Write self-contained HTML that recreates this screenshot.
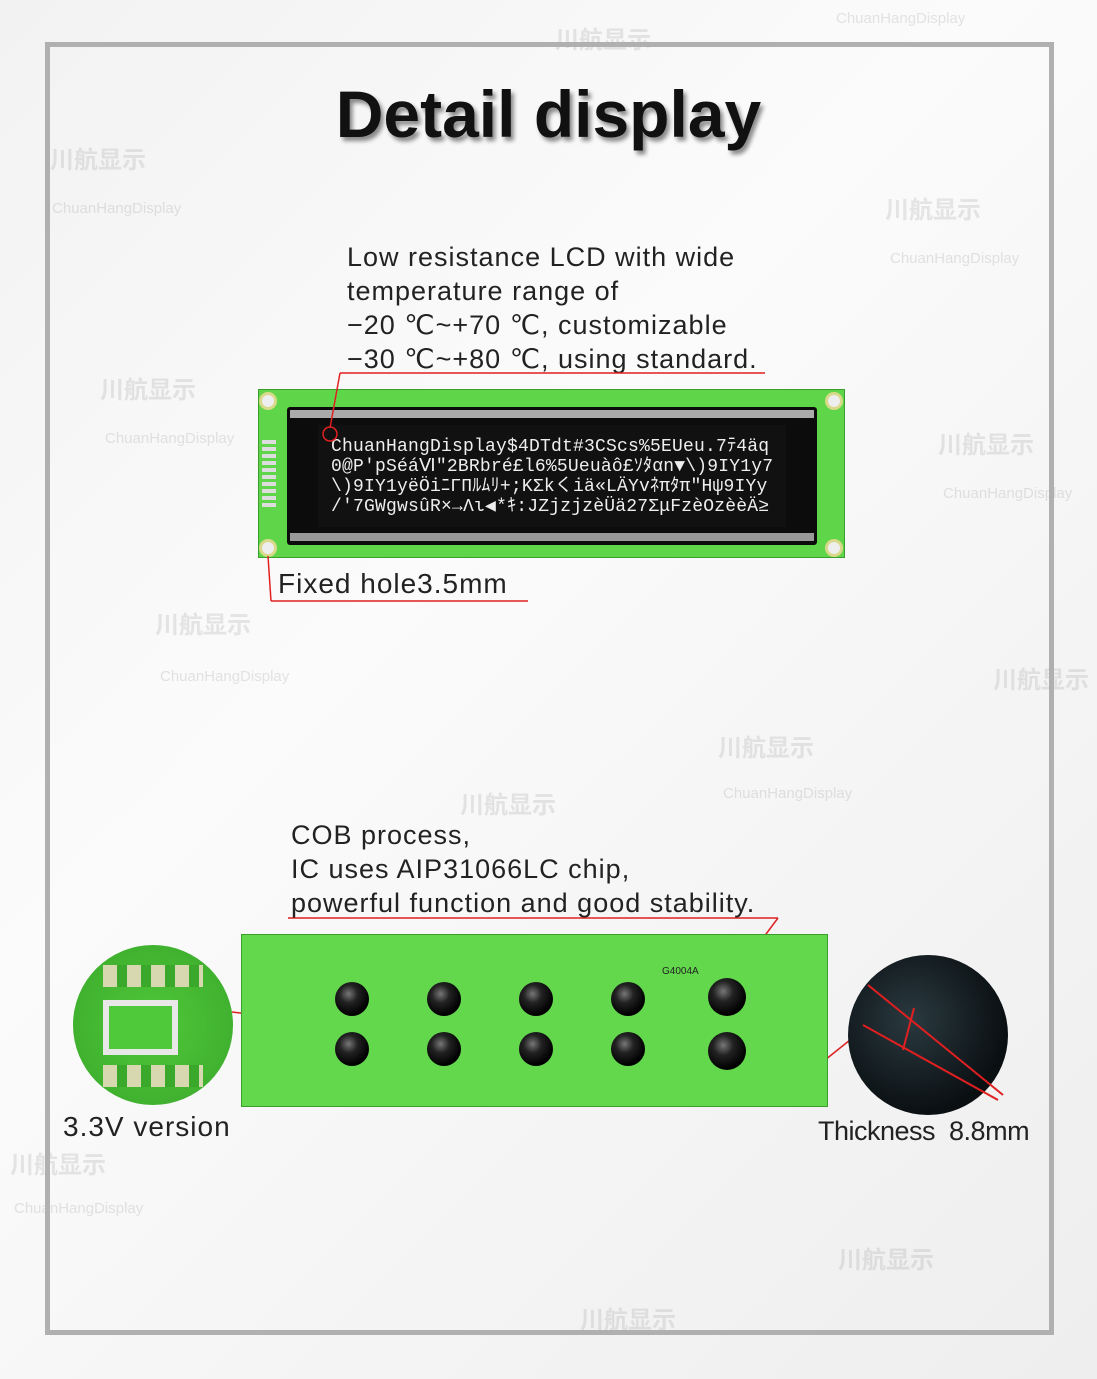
<!DOCTYPE html>
<html><head><meta charset="utf-8"><style>
*{margin:0;padding:0;box-sizing:border-box}
body{width:1097px;height:1379px;position:relative;overflow:hidden;font-family:"Liberation Sans",sans-serif;background:linear-gradient(135deg,#f2f2f2 0%,#fbfbfb 40%,#f4f4f4 70%,#eeeeee 100%)}
.abs{position:absolute}
.frame{left:45px;top:42px;width:1009px;height:1293px;border:5px solid #b0b0b0}
.title{left:0;width:1097px;top:76px;text-align:center;font-size:66px;font-weight:bold;color:#111;text-shadow:3px 4px 4px rgba(0,0,0,.45)}
.t{font-size:27px;color:#222;line-height:34px;letter-spacing:1px}
.wm{color:rgba(150,150,150,.22);font-size:24px;font-family:"Liberation Sans","Noto Sans CJK SC",sans-serif;font-weight:bold}
.wm2{color:rgba(150,150,150,.25);font-size:15px}
.lcdtxt{font-family:"Liberation Mono",monospace;color:#eee;font-size:18px;line-height:20px;white-space:pre;letter-spacing:.2px}
.blob{position:absolute;width:34px;height:34px;border-radius:50%;background:radial-gradient(circle at 40% 35%,#777 0,#222 30%,#000 70%)}
</style></head><body>
<div class="abs wm" style="left:50px;top:140px">川航显示</div>
<div class="abs wm2" style="left:52px;top:200px">ChuanHangDisplay</div>
<div class="abs wm" style="left:100px;top:370px">川航显示</div>
<div class="abs wm2" style="left:105px;top:430px">ChuanHangDisplay</div>
<div class="abs wm" style="left:885px;top:190px">川航显示</div>
<div class="abs wm2" style="left:890px;top:250px">ChuanHangDisplay</div>
<div class="abs wm" style="left:938px;top:425px">川航显示</div>
<div class="abs wm2" style="left:943px;top:485px">ChuanHangDisplay</div>
<div class="abs wm" style="left:155px;top:605px">川航显示</div>
<div class="abs wm2" style="left:160px;top:668px">ChuanHangDisplay</div>
<div class="abs wm" style="left:718px;top:728px">川航显示</div>
<div class="abs wm2" style="left:723px;top:785px">ChuanHangDisplay</div>
<div class="abs wm" style="left:460px;top:785px">川航显示</div>
<div class="abs wm" style="left:993px;top:660px">川航显示</div>
<div class="abs wm" style="left:10px;top:1145px">川航显示</div>
<div class="abs wm2" style="left:14px;top:1200px">ChuanHangDisplay</div>
<div class="abs wm" style="left:838px;top:1240px">川航显示</div>
<div class="abs wm" style="left:580px;top:1300px">川航显示</div>
<div class="abs wm" style="left:555px;top:20px">川航显示</div>
<div class="abs wm2" style="left:836px;top:10px">ChuanHangDisplay</div>

<div class="abs frame"></div>
<div class="abs title">Detail display</div>

<div class="abs t" style="left:347px;top:240px">Low resistance LCD with wide<br>temperature range of<br>−20 ℃~+70 ℃, customizable<br>−30 ℃~+80 ℃, using standard.</div>

<div class="abs" style="left:258px;top:389px;width:587px;height:169px;background:#5fd64a;border:1px solid #3a9d2c"></div>
<div class="abs" style="left:287px;top:407px;width:530px;height:138px;background:#0c0c0c;border-radius:3px"></div>
<div class="abs" style="left:290px;top:410px;width:524px;height:8px;background:#aaa"></div>
<div class="abs" style="left:290px;top:533px;width:524px;height:8px;background:#999"></div>
<div class="abs" style="left:318px;top:425px;width:468px;height:102px;background:#111"></div>
<div class="abs lcdtxt" style="left:331px;top:437px">ChuanHangDisplay$4DTdt#3CScs%5EUeu.7ﾃ4äq
0@P'pSéáⅥ"2BRbré£l6%5Ueuàô£ｿﾀαn▼\)9IY1y7
\)9IY1yëÖiﾆΓΠﾙﾑﾘ+;KΣkくiä«LÄΥvﾈπﾀπ"Ηψ9IYy
/'7GWgwsûR×→Λι◀*ｷ:JZjzjzèÜä27ΣμFzèOzèèÄ≥</div>
<div class="abs" style="left:259px;top:392px;width:18px;height:18px;border-radius:50%;background:#eee;border:3px solid #d9d98a"></div>
<div class="abs" style="left:259px;top:539px;width:18px;height:18px;border-radius:50%;background:#eee;border:3px solid #d9d98a"></div>
<div class="abs" style="left:825px;top:392px;width:18px;height:18px;border-radius:50%;background:#eee;border:3px solid #d9d98a"></div>
<div class="abs" style="left:825px;top:539px;width:18px;height:18px;border-radius:50%;background:#eee;border:3px solid #d9d98a"></div>
<div class="abs" style="left:262px;top:440px;width:14px;height:70px;background:repeating-linear-gradient(#ddd 0 4px,#5fd64a 4px 7px)"></div>

<svg class="abs" style="left:0;top:0" width="1097" height="1379">
<line x1="340" y1="373" x2="765" y2="373" stroke="#e02020" stroke-width="1.5"/>
<line x1="340" y1="373" x2="330" y2="428" stroke="#e02020" stroke-width="1.5"/>
<circle cx="330" cy="434" r="7" fill="none" stroke="#e02020" stroke-width="1.5"/>
<line x1="268" y1="556" x2="271" y2="601" stroke="#e02020" stroke-width="1.5"/>
<line x1="271" y1="601" x2="528" y2="601" stroke="#e02020" stroke-width="1.5"/>
<line x1="288" y1="918" x2="778" y2="918" stroke="#e02020" stroke-width="1.5"/>
<line x1="778" y1="918" x2="728" y2="985" stroke="#e02020" stroke-width="1.5"/>
<line x1="232" y1="1012" x2="300" y2="1020" stroke="#e02020" stroke-width="1.5"/>
<line x1="850" y1="1040" x2="790" y2="1088" stroke="#e02020" stroke-width="1.5"/>
<circle cx="786" cy="1092" r="8" fill="none" stroke="#e02020" stroke-width="1.5"/>
<circle cx="302" cy="1020" r="12" fill="none" stroke="#e02020" stroke-width="1.5"/>
</svg>

<div class="abs t" style="left:278px;top:567px;font-size:28px">Fixed hole3.5mm</div>

<div class="abs t" style="left:291px;top:818px">COB process,<br>IC uses AIP31066LC chip,<br>powerful function and good stability.</div>

<div class="abs" style="left:241px;top:934px;width:587px;height:173px;background:#63d84c;border:1px solid #3a9d2c"></div>
<div class="blob" style="left:335px;top:982px"></div><div class="blob" style="left:427px;top:982px"></div>
<div class="blob" style="left:519px;top:982px"></div><div class="blob" style="left:611px;top:982px"></div>
<div class="blob" style="left:708px;top:978px;width:38px;height:38px"></div>
<div class="blob" style="left:335px;top:1032px"></div><div class="blob" style="left:427px;top:1032px"></div>
<div class="blob" style="left:519px;top:1032px"></div><div class="blob" style="left:611px;top:1032px"></div>
<div class="blob" style="left:708px;top:1032px;width:38px;height:38px"></div>
<div class="abs" style="left:662px;top:966px;font-size:10px;color:#222">G4004A</div>

<div class="abs" style="left:73px;top:945px;width:160px;height:160px;border-radius:50%;background:radial-gradient(circle at 50% 50%,#4fc83a,#3aa82a);overflow:hidden">
<div class="abs" style="left:30px;top:55px;width:75px;height:55px;border:6px solid #e8e8e8;background:#4fc83a"></div>
<div class="abs" style="left:30px;top:20px;width:100px;height:22px;background:repeating-linear-gradient(90deg,#d8d8b0 0 14px,#3aa82a 14px 24px)"></div>
<div class="abs" style="left:30px;top:120px;width:100px;height:22px;background:repeating-linear-gradient(90deg,#d8d8b0 0 14px,#3aa82a 14px 24px)"></div>
</div>
<div class="abs t" style="left:63px;top:1110px;font-size:28px">3.3V version</div>

<div class="abs" style="left:848px;top:955px;width:160px;height:160px;border-radius:50%;background:radial-gradient(circle at 40% 40%,#2a3a40,#0a0f12 70%)"></div>
<svg class="abs" style="left:848px;top:955px" width="170" height="160">
<line x1="20" y1="30" x2="155" y2="140" stroke="#e02020" stroke-width="2"/>
<line x1="15" y1="70" x2="150" y2="145" stroke="#e02020" stroke-width="2"/>
<line x1="66" y1="53" x2="55" y2="95" stroke="#e02020" stroke-width="2"/>
</svg>
<div class="abs t" style="left:818px;top:1114px;font-size:27px;letter-spacing:-.5px">Thickness&nbsp; 8.8mm</div>
</body></html>
